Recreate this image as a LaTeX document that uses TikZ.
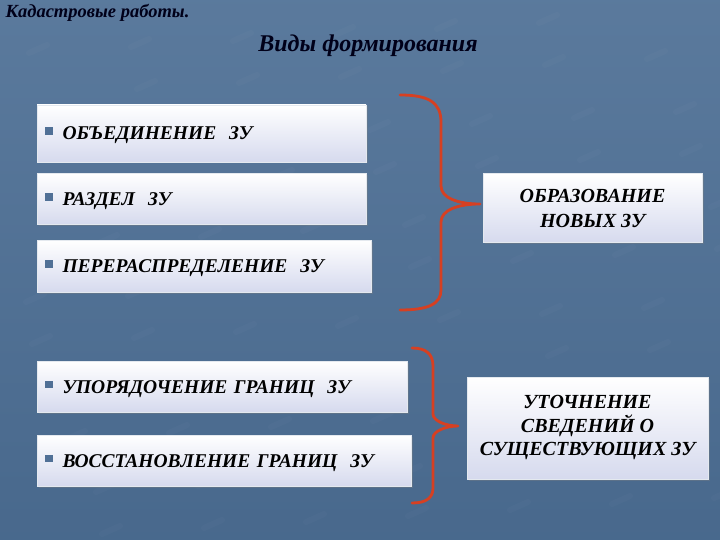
\documentclass[tikz,border=0pt]{standalone}
\usepackage{fontspec}
\setmainfont{Liberation Serif}
\usetikzlibrary{shadows}
\definecolor{bg}{RGB}{76,110,148}
\definecolor{boxbot}{RGB}{214,218,238}
\definecolor{bul}{RGB}{80,112,150}
\definecolor{brace}{RGB}{214,64,34}
\tikzset{
  itembox/.style={rectangle, top color=white, bottom color=boxbot, draw=white!85!bg, line width=0.4pt,
    drop shadow={shadow xshift=1.5pt, shadow yshift=-1.5pt, opacity=0.35},
    inner xsep=8pt, inner ysep=0pt, align=left, anchor=center, text height=13pt, text depth=0pt,
    font=\fontsize{19.5}{22}\selectfont\bfseries\itshape},
  resbox/.style={rectangle, top color=white, bottom color=boxbot, draw=white!85!bg, line width=0.4pt,
    drop shadow={shadow xshift=1.5pt, shadow yshift=-1.5pt, opacity=0.35},
    inner sep=0pt, align=center, anchor=center},
  bracestyle/.style={draw=brace, line width=2.8pt, line cap=round, line join=round},
  titlestyle/.style={font=\fontsize{24}{28}\selectfont\bfseries\itshape, text=black!90!blue},
  headstyle/.style={font=\fontsize{18.5}{21}\selectfont\bfseries\itshape, text=black!90!blue}
}
\newcommand{\bsq}{\raisebox{5pt}{\textcolor{bul}{\rule{7.5pt}{7.5pt}}}\hspace{10pt}}
\begin{document}
\begin{tikzpicture}[x=1pt,y=-1pt]
\shade[top color=bg!92!white, bottom color=bg!95!black] (0,0) rectangle (720,540);
\useasboundingbox (0,0) rectangle (720,540);
% faint texture
\foreach \i in {1,...,70}{
  \pgfmathsetmacro{\xa}{mod(\i*137,720)}
  \pgfmathsetmacro{\ya}{mod(\i*89,540)}
  \draw[white, opacity=0.018, line width=6pt, line cap=round] (\xa,\ya) -- ++(18,-8);
}
\node[headstyle, anchor=west] (head) at (2,13) {Кадастровые работы.};
\node[titlestyle] (title) at (368,46) {Виды формирования};

\node[itembox, text width=313pt, minimum height=57pt] (b1) at (201.5,133.5) {\bsq ОБЪЕДИНЕНИЕ\ \ ЗУ};
\node[itembox, text width=313pt, minimum height=51pt] (b2) at (201.5,199) {\bsq РАЗДЕЛ\ \ ЗУ};
\node[itembox, text width=318pt, minimum height=52pt] (b3) at (204,266) {\bsq ПЕРЕРАСПРЕДЕЛЕНИЕ\ \ ЗУ};
\node[itembox, text width=354pt, minimum height=51pt] (b5) at (222,386.5) {\bsq УПОРЯДОЧЕНИЕ ГРАНИЦ\ \ ЗУ};
\node[itembox, text width=358pt, minimum height=51pt] (b6) at (224,460.5) {\bsq ВОССТАНОВЛЕНИЕ ГРАНИЦ\ \ ЗУ};

\node[resbox, minimum width=219pt, minimum height=69pt, font=\fontsize{20}{25}\selectfont\bfseries\itshape] (r1) at (592.5,208) {ОБРАЗОВАНИЕ\\НОВЫХ ЗУ};
\node[resbox, minimum width=241pt, minimum height=102pt, font=\fontsize{20}{23.5}\selectfont\bfseries\itshape] (r2) at (587.5,428) {УТОЧНЕНИЕ\\СВЕДЕНИЙ О\\СУЩЕСТВУЮЩИХ ЗУ};

% braces
\coordinate (t1) at (480,204);
\draw[bracestyle] (400,95) .. controls (428,95) and (441,102) .. (441,122) -- (441,186)
  .. controls (441,198) and (458,204) .. (t1)
  .. controls (458,204) and (441,210) .. (441,222) -- (441,290)
  .. controls (441,304) and (428,310) .. (400,310);
\coordinate (t2) at (458,426);
\draw[bracestyle] (412,348) .. controls (426,348) and (433,354) .. (433,366) -- (433,414)
  .. controls (433,421) and (446,426) .. (t2)
  .. controls (446,426) and (433,431) .. (433,438) -- (433,488)
  .. controls (433,498) and (426,503) .. (412,503);
\end{tikzpicture}
\end{document}
